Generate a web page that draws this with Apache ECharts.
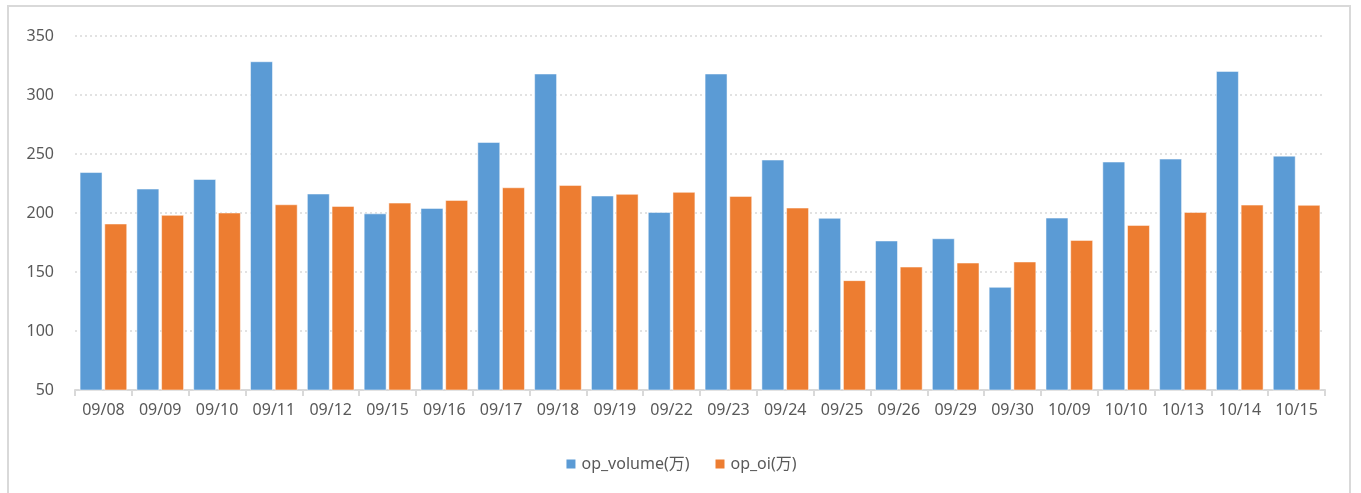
<!DOCTYPE html>
<html>
<head>
<meta charset="utf-8">
<script src="https://cdn.jsdelivr.net/npm/echarts@6/dist/echarts.min.js"></script>
<style>
  html, body { margin: 0; padding: 0; background: #fff; }
  #frame { position: absolute; left: 7px; top: 5px; width: 1344px; height: 500px; border: 2px solid #d9d9d9; box-sizing: border-box; }
  #chart { position: absolute; left: 0; top: 0; width: 1361px; height: 493px; }
</style>
</head>
<body>
<div id="frame"></div>
<div id="chart"></div>
<script>
const categories = ['09/08','09/09','09/10','09/11','09/12','09/15','09/16','09/17','09/18','09/19','09/22','09/23','09/24','09/25','09/26','09/29','09/30','10/09','10/10','10/13','10/14','10/15'];
const opVolume = [234.5, 220.5, 228.6, 328.4, 216.3, 199.5, 204.1, 260.0, 318.0, 214.6, 200.7, 318.0, 245.1, 195.7, 176.5, 178.4, 137.2, 195.9, 243.4, 245.9, 320.2, 248.4];
const opOi = [190.9, 198.2, 200.2, 207.2, 205.8, 208.6, 210.9, 221.6, 223.6, 216.0, 217.7, 214.3, 204.4, 142.9, 154.4, 157.8, 158.7, 177.0, 189.7, 200.7, 206.9, 206.7];
const seriesNames = ['op_volume(万)', 'op_oi(万)'];
const yTicks = { min: 50, max: 350, interval: 50 };

const chart = echarts.init(document.getElementById('chart'), null, { renderer: 'canvas' });
const font = '"Noto Sans", "Noto Sans CJK SC", sans-serif';
chart.setOption({
  animation: false,
  textStyle: { fontFamily: font },
  grid: { left: 75, right: 36, top: 36, bottom: 103, containLabel: false },
  legend: {
    data: seriesNames,
    left: 'center',
    top: 451,
    itemWidth: 11,
    itemHeight: 11,
    itemGap: 24,
    icon: 'rect',
    textStyle: { color: '#595959', fontSize: 16, fontFamily: font }
  },
  xAxis: {
    type: 'category',
    data: categories,
    axisLine: { lineStyle: { color: '#d9d9d9', width: 2 } },
    axisTick: { show: true, alignWithLabel: false, length: 6, lineStyle: { color: '#d9d9d9', width: 2 } },
    axisLabel: { color: '#595959', fontSize: 16, margin: 12, fontFamily: font, interval: 0 }
  },
  yAxis: {
    type: 'value',
    min: yTicks.min,
    max: yTicks.max,
    interval: yTicks.interval,
    axisLine: { show: false },
    axisTick: { show: false },
    axisLabel: { color: '#595959', fontSize: 16, margin: 21, fontFamily: font },
    splitLine: { lineStyle: { color: '#d9d9d9', type: [2, 3], width: 1.5 } }
  },
  series: [
    {
      name: seriesNames[0],
      type: 'bar',
      data: opVolume,
      barGap: '10%',
      barCategoryGap: '17%',
      itemStyle: { color: '#5B9BD5', borderColor: '#ffffff', borderWidth: 0.5 }
    },
    {
      name: seriesNames[1],
      type: 'bar',
      data: opOi,
      barGap: '10%',
      barCategoryGap: '17%',
      itemStyle: { color: '#ED7D31', borderColor: '#ffffff', borderWidth: 0.5 }
    }
  ]
});
</script>
</body>
</html>
